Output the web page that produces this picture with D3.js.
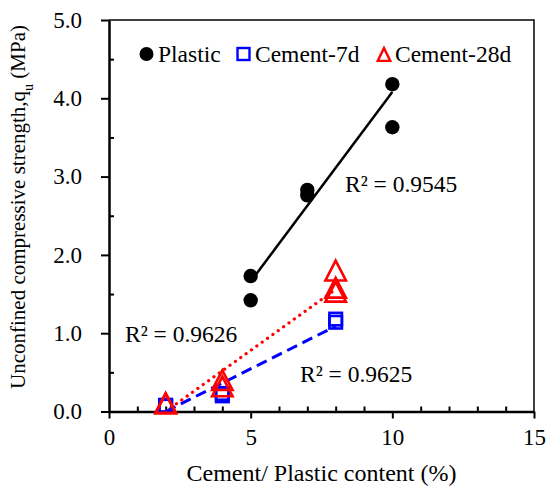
<!DOCTYPE html>
<html>
<head>
<meta charset="utf-8">
<script src="https://cdn.jsdelivr.net/npm/d3@7"></script>
<style>
	body { margin: 0; background: #fff; }
	svg text { font-family: "Liberation Serif", "Times New Roman", serif; }
</style>
</head>
<body>
<div id="chart"></div>
<script>
	//Data
	var plasticX = [5, 5, 7, 7, 10, 10];
	var plasticY = [1.73, 1.42, 2.83, 2.76, 4.18, 3.63];
	var cement7X = [2, 2, 4, 4, 8, 8];
	var cement7Y = [0.07, 0.08, 0.23, 0.20, 1.18, 1.14];
	var cement28X = [2, 2, 4, 4, 8, 8, 8];
	var cement28Y = [0.11, 0.10, 0.40, 0.32, 1.80, 1.58, 1.53];

	//Trendline end points
	var trendPlastic = [[5, 1.66], [10, 4.08]];
	var trend7 = [[2, 0.0], [8, 1.09]];
	var trend28 = [[2, 0.0], [8, 1.56]];

	var seriesNames = ["Plastic", "Cement-7d", "Cement-28d"];
	var r2Labels = ["R² = 0.9545", "R² = 0.9625", "R² = 0.9626"];
	var xTicks = [0, 5, 10, 15];
	var yTicks = [0, 1, 2, 3, 4, 5];

(function () {
	var w = 549;
	var h = 489;
	var pLeft = 109, pRight = 534, pTop = 20, pBottom = 411.5;
	var font = "Liberation Serif";

	var xScale = d3.scaleLinear().domain([0, 15]).range([pLeft, pRight]);
	var yScale = d3.scaleLinear().domain([0, 5]).range([pBottom, pTop]);

	var svg = d3.select("#chart")
		.append("svg")
		.attr("width", w)
		.attr("height", h);

	//Frame top and right
	svg.append("path")
		.attr("d", "M" + pLeft + "," + pTop + "H" + pRight + "V" + pBottom)
		.attr("fill", "none")
		.attr("stroke", "black")
		.attr("stroke-width", 1.5);

	//Minor ticks (inside)
	var xMinor = d3.range(0, 16).filter(function (d) { return d % 5 != 0; });
	svg.append("g")
		.attr("transform", "translate(0," + pBottom + ")")
		.call(d3.axisTop(xScale).tickValues(xMinor).tickSize(5).tickFormat(""))
		.call(function (g) { g.select(".domain").remove(); })
		.selectAll("line").attr("stroke-width", 2);

	var yMinor = [0.5, 1.5, 2.5, 3.5, 4.5];
	svg.append("g")
		.attr("transform", "translate(" + pLeft + ",0)")
		.call(d3.axisRight(yScale).tickValues(yMinor).tickSize(5).tickFormat(""))
		.call(function (g) { g.select(".domain").remove(); })
		.selectAll("line").attr("stroke-width", 2);

	//Major axes
	var xAxis = svg.append("g")
		.attr("transform", "translate(0," + pBottom + ")")
		.call(d3.axisBottom(xScale).tickValues(xTicks).tickSize(7).tickSizeOuter(0).tickPadding(10));
	var yAxis = svg.append("g")
		.attr("transform", "translate(" + pLeft + ",0)")
		.call(d3.axisLeft(yScale).tickValues(yTicks).tickSize(8).tickSizeOuter(0).tickPadding(19)
			.tickFormat(d3.format(".1f")));

	[xAxis, yAxis].forEach(function (g) {
		g.attr("font-family", font).attr("font-size", 23);
		g.select(".domain").attr("stroke-width", 2.5);
		g.selectAll("line").attr("stroke-width", 2);
		g.selectAll("text").attr("fill", "black");
	});

	//Axis titles
	svg.append("text")
		.attr("text-anchor", "middle")
		.attr("x", 321.5)
		.attr("y", 481)
		.attr("font-size", "24px")
		.text("Cement/ Plastic content (%)");

	var yt = svg.append("text")
		.attr("text-anchor", "middle")
		.attr("transform", "translate(25," + 207 + ")rotate(-90)")
		.attr("font-size", "21px");
	yt.append("tspan").text("Unconfined compressive strength,q");
	yt.append("tspan").attr("baseline-shift", "sub").attr("font-size", "14px").text("u");
	yt.append("tspan").text(" (MPa)");

	//Trendlines
	var line = d3.line()
		.x(function (d) { return xScale(d[0]); })
		.y(function (d) { return yScale(d[1]); });

	svg.append("path").attr("d", line(trendPlastic))
		.attr("fill", "none").attr("stroke", "black").attr("stroke-width", 2.5);
	svg.append("path").attr("d", line(trend7))
		.attr("fill", "none").attr("stroke", "#0000FF").attr("stroke-width", 3)
		.attr("stroke-dasharray", "11,6");
	svg.append("path").attr("d", line(trend28))
		.attr("fill", "none").attr("stroke", "#FF0000").attr("stroke-width", 3.2)
		.attr("stroke-linecap", "round")
		.attr("stroke-dasharray", "0.1,6.5");

	//Markers
	var triangle = function (cx, cy, s) {
		var hh = s * Math.sqrt(3) / 2;
		return "M" + cx + "," + (cy - hh / 2 - 1) + "L" + (cx + s / 2) + "," + (cy + hh / 2 + 1) +
			"L" + (cx - s / 2) + "," + (cy + hh / 2 + 1) + "Z";
	};

	svg.selectAll("circle.plastic")
		.data(d3.zip(plasticX, plasticY))
		.enter()
		.append("circle")
		.attr("class", "plastic")
		.attr("cx", function (d) { return xScale(d[0]); })
		.attr("cy", function (d) { return yScale(d[1]); })
		.attr("r", 7.2)
		.attr("fill", "black");

	var sq = 12.5;
	svg.selectAll("rect.c7")
		.data(d3.zip(cement7X, cement7Y))
		.enter()
		.append("rect")
		.attr("class", "c7")
		.attr("x", function (d) { return xScale(d[0]) - sq / 2; })
		.attr("y", function (d) { return yScale(d[1]) - sq / 2; })
		.attr("width", sq)
		.attr("height", sq)
		.attr("fill", "none")
		.attr("stroke", "#0000FF")
		.attr("stroke-width", 2.6);

	svg.selectAll("path.c28")
		.data(d3.zip(cement28X, cement28Y))
		.enter()
		.append("path")
		.attr("class", "c28")
		.attr("d", function (d) { return triangle(xScale(d[0]), yScale(d[1]), 20.5); })
		.attr("fill", "none")
		.attr("stroke", "#FF0000")
		.attr("stroke-width", 2.6);

	//R squared labels
	var r2Pos = [[345, 192], [300, 382], [125, 342]];
	svg.selectAll("text.r2")
		.data(r2Labels)
		.enter()
		.append("text")
		.attr("class", "r2")
		.attr("x", function (d, i) { return r2Pos[i][0]; })
		.attr("y", function (d, i) { return r2Pos[i][1]; })
		.attr("font-size", "23.5px")
		.text(function (d) { return d; });

	//Legend
	var legendY = 54;
	var lg = svg.append("g");
	lg.append("circle").attr("cx", 146.5).attr("cy", legendY).attr("r", 7).attr("fill", "black");
	lg.append("rect").attr("x", 237.5).attr("y", legendY - 6).attr("width", 12).attr("height", 12)
		.attr("fill", "none").attr("stroke", "#0000FF").attr("stroke-width", 2.4);
	lg.append("path").attr("d", triangle(384, legendY + 0.5, 12.5))
		.attr("fill", "none").attr("stroke", "#FF0000").attr("stroke-width", 2.4);
	var legendX = [158, 255, 395];
	lg.selectAll("text.legend")
		.data(seriesNames)
		.enter()
		.append("text")
		.attr("class", "legend")
		.attr("x", function (d, i) { return legendX[i]; })
		.attr("y", 62)
		.attr("font-size", "23.5px")
		.text(function (d) { return d; });
})();
</script>
</body>
</html>
